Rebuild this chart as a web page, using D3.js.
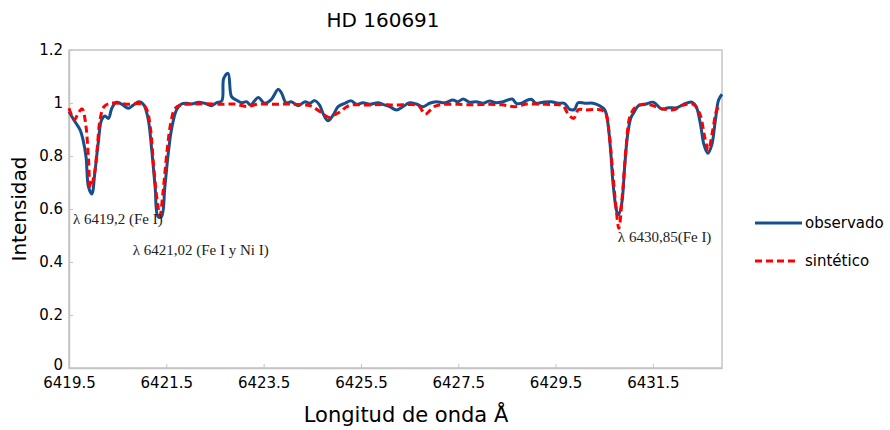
<!DOCTYPE html>
<html>
<head>
<meta charset="utf-8">
<script src="https://cdn.jsdelivr.net/npm/d3@7"></script>
<style>
  html, body { margin: 0; padding: 0; background: #fff; }
  text { font-family: "DejaVu Sans", sans-serif; }
  text.annot { font-family: "Liberation Serif", "Times New Roman", serif; }
</style>
</head>
<body>
<svg id="chart" width="890" height="430"></svg>
<script>
// ---- data ----
const title = "HD 160691";
const xTitle = "Longitud de onda Å";
const yTitle = "Intensidad";
const xTicks = [6419.5, 6421.5, 6423.5, 6425.5, 6427.5, 6429.5, 6431.5];
const xTickLabels = ["6419.5", "6421.5", "6423.5", "6425.5", "6427.5", "6429.5", "6431.5"];
const yTicks = [0, 0.2, 0.4, 0.6, 0.8, 1, 1.2];
const yTickLabels = ["0", "0.2", "0.4", "0.6", "0.8", "1", "1.2"];
const seriesNames = ["observado", "sintético"];
const annotations = [
  { wave: 6419.58, value: 0.545, text: "λ 6419,2 (Fe I)" },
  { wave: 6420.81, value: 0.425, text: "λ 6421,02 (Fe I y Ni I)" },
  { wave: 6430.78, value: 0.475, text: "λ 6430,85(Fe I)" }
];

const observado = [
  [6419.50,0.967],[6419.62,0.930],[6419.73,0.898],[6419.79,0.860],[6419.85,0.797],[6419.90,0.684],
  [6419.97,0.657],[6420.03,0.735],[6420.10,0.848],[6420.17,0.936],[6420.24,0.951],[6420.31,0.942],
  [6420.38,0.980],[6420.47,1.003],[6420.58,0.996],[6420.72,0.980],[6420.82,0.992],[6420.94,1.005],
  [6421.04,0.992],[6421.13,0.936],[6421.20,0.823],[6421.27,0.684],[6421.33,0.571],[6421.40,0.571],
  [6421.47,0.684],[6421.54,0.810],[6421.61,0.904],[6421.71,0.974],[6421.81,0.996],[6421.92,0.999],
  [6422.02,0.996],[6422.16,1.003],[6422.29,0.999],[6422.43,0.990],[6422.53,1.001],[6422.64,1.008],
  [6422.68,1.093],[6422.77,1.112],[6422.84,1.024],[6422.94,1.011],[6423.05,1.001],[6423.15,1.005],
  [6423.23,0.992],[6423.39,1.021],[6423.52,0.999],[6423.66,1.014],[6423.80,1.052],[6423.87,1.037],
  [6423.96,1.001],[6424.07,1.005],[6424.21,0.990],[6424.35,1.005],[6424.45,0.999],[6424.55,1.009],
  [6424.65,0.992],[6424.72,0.961],[6424.82,0.933],[6424.93,0.955],[6425.03,0.986],[6425.17,0.999],
  [6425.30,1.008],[6425.41,0.995],[6425.54,1.001],[6425.68,0.995],[6425.85,1.001],[6425.95,0.995],
  [6426.09,0.986],[6426.23,0.974],[6426.36,0.986],[6426.50,1.001],[6426.64,0.996],[6426.78,0.986],
  [6426.91,0.999],[6427.05,1.005],[6427.22,1.001],[6427.39,1.011],[6427.49,1.005],[6427.60,1.015],
  [6427.73,1.003],[6427.87,1.005],[6428.01,0.999],[6428.14,1.008],[6428.28,1.001],[6428.42,1.005],
  [6428.61,1.015],[6428.69,0.999],[6428.80,0.999],[6428.90,1.009],[6429.00,1.014],[6429.10,0.999],
  [6429.24,1.003],[6429.41,1.005],[6429.55,0.999],[6429.68,0.999],[6429.79,0.976],[6429.89,0.976],
  [6429.96,1.001],[6430.10,0.999],[6430.27,0.999],[6430.40,0.990],[6430.51,0.974],[6430.57,0.929],
  [6430.63,0.823],[6430.68,0.697],[6430.75,0.596],[6430.79,0.577],[6430.86,0.622],[6430.92,0.760],
  [6430.98,0.880],[6431.05,0.945],[6431.12,0.967],[6431.20,0.990],[6431.34,0.995],[6431.51,1.003],
  [6431.68,0.977],[6431.82,0.982],[6431.99,0.982],[6432.13,0.995],[6432.30,1.003],[6432.39,0.986],
  [6432.48,0.917],[6432.55,0.842],[6432.63,0.810],[6432.71,0.842],[6432.78,0.929],[6432.85,1.011],
  [6432.92,1.033]
];

const sintetico = [
  [6419.50,0.980],[6419.61,0.937],[6419.70,0.965],[6419.77,0.978],[6419.84,0.925],[6419.90,0.790],
  [6419.94,0.680],[6420.02,0.730],[6420.08,0.830],[6420.14,0.940],[6420.22,0.986],[6420.33,0.998],
  [6420.45,1.000],[6420.60,0.997],[6420.75,0.995],[6420.90,0.998],[6421.02,0.995],[6421.10,0.975],
  [6421.17,0.910],[6421.24,0.760],[6421.31,0.634],[6421.37,0.575],[6421.43,0.660],[6421.51,0.810],
  [6421.59,0.923],[6421.68,0.980],[6421.80,0.993],[6422.00,0.996],[6422.30,0.997],[6422.60,0.995],
  [6422.90,0.996],[6423.16,0.987],[6423.40,0.996],[6423.70,0.995],[6424.00,0.996],[6424.30,0.993],
  [6424.45,0.990],[6424.60,0.975],[6424.75,0.955],[6424.85,0.945],[6424.95,0.955],[6425.08,0.967],
  [6425.20,0.985],[6425.32,0.993],[6425.60,0.992],[6425.90,0.994],[6426.20,0.992],[6426.50,0.994],
  [6426.68,0.990],[6426.82,0.958],[6426.92,0.972],[6427.00,0.986],[6427.15,0.994],[6427.50,0.995],
  [6427.80,0.993],[6428.10,0.995],[6428.40,0.993],[6428.66,0.986],[6428.90,0.996],[6429.20,0.995],
  [6429.50,0.994],[6429.65,0.990],[6429.75,0.961],[6429.87,0.942],[6429.97,0.975],[6430.10,0.974],
  [6430.30,0.975],[6430.45,0.973],[6430.53,0.961],[6430.60,0.886],[6430.67,0.747],[6430.74,0.609],
  [6430.80,0.527],[6430.88,0.670],[6430.95,0.835],[6431.03,0.950],[6431.15,0.986],[6431.30,0.995],
  [6431.50,0.990],[6431.65,0.980],[6431.92,0.974],[6432.12,0.992],[6432.33,0.995],[6432.46,0.961],
  [6432.57,0.867],[6432.64,0.823],[6432.73,0.898],[6432.80,0.967],[6432.88,0.999]
];

// ---- drawing ----
const svg = d3.select("#chart");
const plot = { left: 69, right: 722, top: 50, bottom: 368 };
const x = d3.scaleLinear().domain([6419.5, 6432.92]).range([plot.left, plot.right]);
const y = d3.scaleLinear().domain([0, 1.2]).range([plot.bottom, plot.top]);
const axisColor = "#c4c4c4";
const blue = "#15508d";
const red = "#ff0000";

// plot frame
svg.append("rect")
  .attr("x", plot.left).attr("y", plot.top)
  .attr("width", plot.right - plot.left).attr("height", plot.bottom - plot.top)
  .attr("fill", "none").attr("stroke", axisColor).attr("stroke-width", 1.5);

// x axis
const xAxis = svg.append("g").attr("transform", `translate(0,${plot.bottom})`)
  .call(d3.axisBottom(x).tickValues(xTicks).tickSizeInner(-4).tickSizeOuter(0).tickPadding(9)
    .tickFormat((d, i) => xTickLabels[i]));
xAxis.select(".domain").attr("stroke", axisColor).attr("stroke-width", 1.5);
xAxis.selectAll(".tick line").attr("stroke", axisColor);
xAxis.selectAll("text").attr("font-size", 15).attr("fill", "#000");

// y axis
const yAxis = svg.append("g").attr("transform", `translate(${plot.left},0)`)
  .call(d3.axisLeft(y).tickValues(yTicks).tickSizeInner(-4).tickSizeOuter(0).tickPadding(6)
    .tickFormat((d, i) => yTickLabels[i]));
yAxis.select(".domain").attr("stroke", axisColor).attr("stroke-width", 1.5);
yAxis.selectAll(".tick line").attr("stroke", axisColor);
yAxis.selectAll("text").attr("font-size", 15).attr("fill", "#000");
// lift the "0" label slightly so it does not collide with the first x label
yAxis.selectAll(".tick text").filter(d => d === 0).attr("dy", "0.1em");

// lines
const line = d3.line()
  .x(d => x(d[0])).y(d => y(d[1]))
  .curve(d3.curveCatmullRom.alpha(0.5));

svg.append("path").datum(observado)
  .attr("d", line).attr("fill", "none")
  .attr("stroke", blue).attr("stroke-width", 3).attr("stroke-linejoin", "round");

svg.append("path").datum(sintetico)
  .attr("d", line).attr("fill", "none")
  .attr("stroke", red).attr("stroke-width", 3).attr("stroke-dasharray", "7,4");

// annotations
svg.selectAll("text.annot").data(annotations).enter().append("text")
  .attr("class", "annot")
  .attr("x", d => x(d.wave)).attr("y", d => y(d.value))
  .attr("font-size", 15)
  .attr("fill", "#222")
  .text(d => d.text);

// title
svg.append("text").attr("x", 383).attr("y", 27).attr("text-anchor", "middle")
  .attr("font-size", 20).attr("fill", "#000").text(title);

// axis titles
svg.append("text").attr("x", 406).attr("y", 422).attr("text-anchor", "middle")
  .attr("font-size", 21).attr("fill", "#000").text(xTitle);
svg.append("text").attr("transform", "translate(26,209) rotate(-90)").attr("text-anchor", "middle")
  .attr("font-size", 20).attr("fill", "#000").text(yTitle);

// legend
const legend = svg.append("g");
const legendY = [223, 261];
legend.selectAll("line").data(seriesNames).enter().append("line")
  .attr("x1", 755).attr("x2", (d, i) => i === 0 ? 802 : 797)
  .attr("y1", (d, i) => legendY[i]).attr("y2", (d, i) => legendY[i])
  .attr("stroke", (d, i) => i === 0 ? blue : red)
  .attr("stroke-width", 3)
  .attr("stroke-dasharray", (d, i) => i === 0 ? null : "7,4");
legend.selectAll("text").data(seriesNames).enter().append("text")
  .attr("x", 805).attr("y", (d, i) => legendY[i] + 5)
  .attr("font-size", 15).attr("fill", "#000").text(d => d);
</script>
</body>
</html>
